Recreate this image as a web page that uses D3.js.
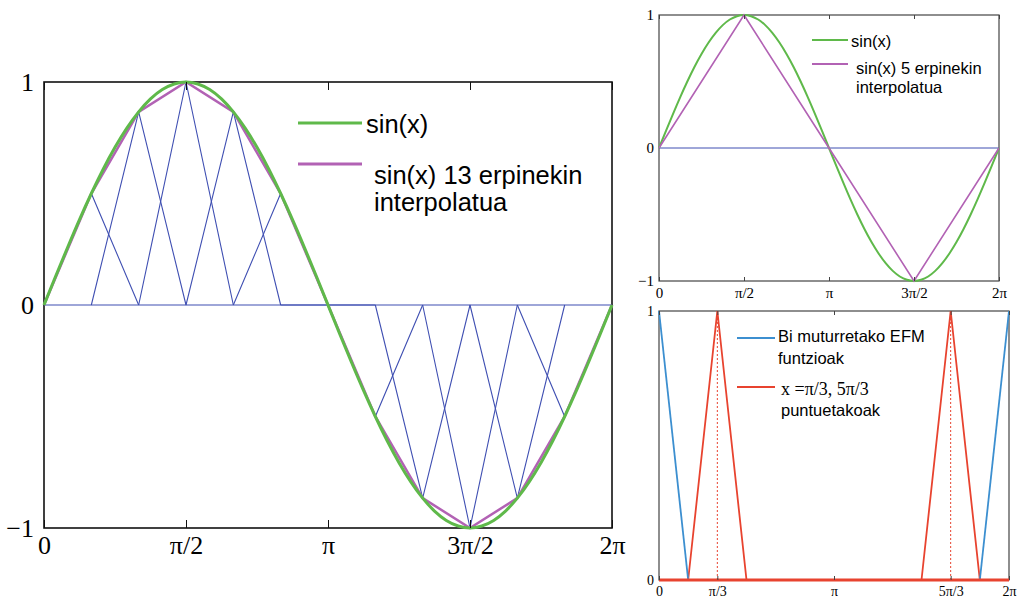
<!DOCTYPE html>
<html><head><meta charset="utf-8">
<script src="https://cdn.jsdelivr.net/npm/d3@7"></script>
<style>
html,body{margin:0;padding:0;background:#fff;}
svg{display:block;}
</style></head>
<body>
<svg id="c" width="1021" height="602"></svg>
<script>
const PI = Math.PI;
const sinSamples = [0,0.131,0.259,0.383,0.5,0.609,0.707,0.793,0.866,0.924,0.966,0.991,1,
  0.991,0.966,0.924,0.866,0.793,0.707,0.609,0.5,0.383,0.259,0.131,0,
  -0.131,-0.259,-0.383,-0.5,-0.609,-0.707,-0.793,-0.866,-0.924,-0.966,-0.991,-1,
  -0.991,-0.966,-0.924,-0.866,-0.793,-0.707,-0.609,-0.5,-0.383,-0.259,-0.131,0];
const sinStep = PI/24;
// 13-node interpolation (nodes every pi/6)
const nodes13 = [0,1,2,3,4,5,6,7,8,9,10,11,12];          // multiples of pi/6
const vals13  = [0,0.5,0.866,1,0.866,0.5,0,-0.5,-0.866,-1,-0.866,-0.5,0];
// 5-node interpolation (nodes every pi/2)
const nodes5 = [0,1,2,3,4];                               // multiples of pi/2
const vals5  = [0,1,0,-1,0];
// basis functions, bottom-right panel (x in multiples of pi/6)
const endHatsX = [[0,1],[11,12]];
const endHatsY = [[1,0],[0,1]];
const midHatsX = [[1,2,3],[9,10,11]];
const midHatsY = [[0,1,0],[0,1,0]];
const midPeaks = [2,10];

// tick labels
const leftXTicks = [0,1,2,3,4];           // multiples of pi/2
const leftXLabels = ["0","π/2","π","3π/2","2π"];
const yTicks = [-1,0,1];
const yLabels = ["−1","0","1"];
const brXTicks = [0,2,6,10,12];           // multiples of pi/6
const brXLabels = ["0","π/3","π","5π/3","2π"];
const brYTicks = [0,1];
const brYLabels = ["0","1"];

const GREEN="#5fb94a", PURPLE="#b262b4", NAVY="#3f4fb2", LBLUE="#3c8fd0", RED="#e8432f";
const SERIF="Liberation Serif, Times New Roman, serif", SANS="Liberation Sans, Arial, sans-serif";

const svg = d3.select("#c");

function panel(cfg){
  const g = svg.append("g");
  const x = d3.scaleLinear().domain([0,2*PI]).range([cfg.x0,cfg.x1]);
  const y = d3.scaleLinear().domain(cfg.ydom).range([cfg.y1,cfg.y0]);
  return {g,x,y};
}
function frame(p,cfg){
  p.g.append("rect").attr("x",cfg.x0).attr("y",cfg.y0)
   .attr("width",cfg.x1-cfg.x0).attr("height",cfg.y1-cfg.y0)
   .attr("fill","none").attr("stroke",cfg.frameColor).attr("stroke-width",cfg.fw);
}
function axes(p,cfg,xt,xl,unit,yt,yl){
  const bx = d3.axisBottom(p.x).tickValues(xt.map(d=>d*unit))
     .tickFormat((d,i)=>xl[i]).tickSizeInner(-cfg.tick).tickSizeOuter(0).tickPadding(cfg.xpad);
  const ga = p.g.append("g").attr("transform",`translate(0,${cfg.y1})`).call(bx);
  ga.select(".domain").remove();
  ga.selectAll("line").attr("stroke",cfg.frameColor).attr("stroke-width",1);
  ga.selectAll("text").attr("font-size",cfg.fs).attr("fill","#000").attr("font-family",SERIF);
  const tx = d3.axisTop(p.x).tickValues(xt.map(d=>d*unit)).tickFormat("")
     .tickSizeInner(-cfg.tick).tickSizeOuter(0);
  const gt = p.g.append("g").attr("transform",`translate(0,${cfg.y0})`).call(tx);
  gt.select(".domain").remove();
  gt.selectAll("line").attr("stroke",cfg.frameColor).attr("stroke-width",1);
  const ly = d3.axisLeft(p.y).tickValues(yt).tickFormat((d,i)=>yl[i])
     .tickSizeInner(0).tickSizeOuter(0).tickPadding(cfg.ypad);
  const gl = p.g.append("g").attr("transform",`translate(${cfg.x0},0)`).call(ly);
  gl.select(".domain").remove();
  gl.selectAll("text").attr("font-size",cfg.fs).attr("fill","#000").attr("font-family",SERIF);
}
const line = (p)=>d3.line().x(d=>p.x(d[0])).y(d=>p.y(d[1]));
const sinPts = sinSamples.map((v,i)=>[i*sinStep,v]);

// ---------- LEFT PANEL ----------
const L = {x0:44,x1:612,y0:82,y1:528,ydom:[-1,1],frameColor:"#111",fw:1.6,tick:8,fs:26,xpad:8,ypad:10};
const pL = panel(L);
frame(pL,L);
pL.g.append("path").attr("d",line(pL)([[0,0],[2*PI,0]])).attr("fill","none").attr("stroke",NAVY).attr("stroke-width",1.1);
for(let k=1;k<nodes13.length-1;k++){
  const pts=[[nodes13[k-1]*PI/6,0],[nodes13[k]*PI/6,vals13[k]],[nodes13[k+1]*PI/6,0]];
  pL.g.append("path").attr("d",line(pL)(pts)).attr("fill","none").attr("stroke",NAVY).attr("stroke-width",1.1);
}
pL.g.append("path").attr("d",line(pL)(nodes13.map((n,i)=>[n*PI/6,vals13[i]]))).attr("fill","none").attr("stroke",PURPLE).attr("stroke-width",2.5);
pL.g.append("path").attr("d",line(pL).curve(d3.curveNatural)(sinPts)).attr("fill","none").attr("stroke",GREEN).attr("stroke-width",3);
axes(pL,L,leftXTicks,leftXLabels,PI/2,yTicks,yLabels);
const lg = svg.append("g").attr("font-family",SANS).attr("font-size",25.5);
lg.append("line").attr("x1",298).attr("x2",362).attr("y1",123).attr("y2",123).attr("stroke",GREEN).attr("stroke-width",3);
lg.append("text").attr("x",366).attr("y",133).text("sin(x)");
lg.append("line").attr("x1",298).attr("x2",362).attr("y1",164).attr("y2",164).attr("stroke",PURPLE).attr("stroke-width",3);
lg.append("text").attr("x",374).attr("y",184).text("sin(x) 13 erpinekin");
lg.append("text").attr("x",374).attr("y",211).text("interpolatua");

// ---------- TOP RIGHT PANEL ----------
const T = {x0:659,x1:999,y0:15,y1:281,ydom:[-1,1],frameColor:"#444",fw:1.2,tick:4,fs:15,xpad:6,ypad:5};
const pT = panel(T);
frame(pT,T);
pT.g.append("path").attr("d",line(pT)([[0,0],[2*PI,0]])).attr("fill","none").attr("stroke",NAVY).attr("stroke-width",1);
pT.g.append("path").attr("d",line(pT).curve(d3.curveNatural)(sinPts)).attr("fill","none").attr("stroke",GREEN).attr("stroke-width",2);
pT.g.append("path").attr("d",line(pT)(nodes5.map((n,i)=>[n*PI/2,vals5[i]]))).attr("fill","none").attr("stroke",PURPLE).attr("stroke-width",1.6);
axes(pT,T,leftXTicks,leftXLabels,PI/2,yTicks,yLabels);
const tg = svg.append("g").attr("font-family",SANS).attr("font-size",16.5);
tg.append("line").attr("x1",812).attr("x2",848).attr("y1",40).attr("y2",40).attr("stroke",GREEN).attr("stroke-width",2);
tg.append("text").attr("x",851).attr("y",47).text("sin(x)");
tg.append("line").attr("x1",812).attr("x2",848).attr("y1",64).attr("y2",64).attr("stroke",PURPLE).attr("stroke-width",2);
tg.append("text").attr("x",856).attr("y",74).text("sin(x) 5 erpinekin");
tg.append("text").attr("x",856).attr("y",93).text("interpolatua");

// ---------- BOTTOM RIGHT PANEL ----------
const B = {x0:659,x1:1009,y0:311,y1:580,ydom:[0,1],frameColor:"#444",fw:1.2,tick:4,fs:14,xpad:6,ypad:5};
const pB = panel(B);
frame(pB,B);
midPeaks.forEach(m=>{
  pB.g.append("path").attr("d",line(pB)([[m*PI/6,0],[m*PI/6,1]])).attr("stroke",RED).attr("stroke-width",1).attr("stroke-dasharray","2,2").attr("fill","none");
});
midHatsX.forEach((xs,i)=>{
  pB.g.append("path").attr("d",line(pB)(xs.map((v,j)=>[v*PI/6,midHatsY[i][j]]))).attr("fill","none").attr("stroke",RED).attr("stroke-width",1.8);
});
endHatsX.forEach((xs,i)=>{
  pB.g.append("path").attr("d",line(pB)(xs.map((v,j)=>[v*PI/6,endHatsY[i][j]]))).attr("fill","none").attr("stroke",LBLUE).attr("stroke-width",1.8);
});
pB.g.append("path").attr("d",line(pB)([[0,0],[2*PI,0]])).attr("fill","none").attr("stroke",RED).attr("stroke-width",3);
axes(pB,B,brXTicks,brXLabels,PI/6,brYTicks,brYLabels);
const bg = svg.append("g").attr("font-family",SANS).attr("font-size",16.5);
bg.append("line").attr("x1",737).attr("x2",775).attr("y1",338).attr("y2",338).attr("stroke",LBLUE).attr("stroke-width",2);
bg.append("text").attr("x",778).attr("y",342).text("Bi muturretako EFM");
bg.append("text").attr("x",778).attr("y",364).text("funtzioak");
bg.append("line").attr("x1",737).attr("x2",775).attr("y1",387).attr("y2",387).attr("stroke",RED).attr("stroke-width",2);
bg.append("text").attr("x",781).attr("y",395).attr("font-family",SERIF).attr("font-size",18).text("x =π/3, 5π/3");
bg.append("text").attr("x",781).attr("y",416).text("puntuetakoak");
</script>
</body></html>
